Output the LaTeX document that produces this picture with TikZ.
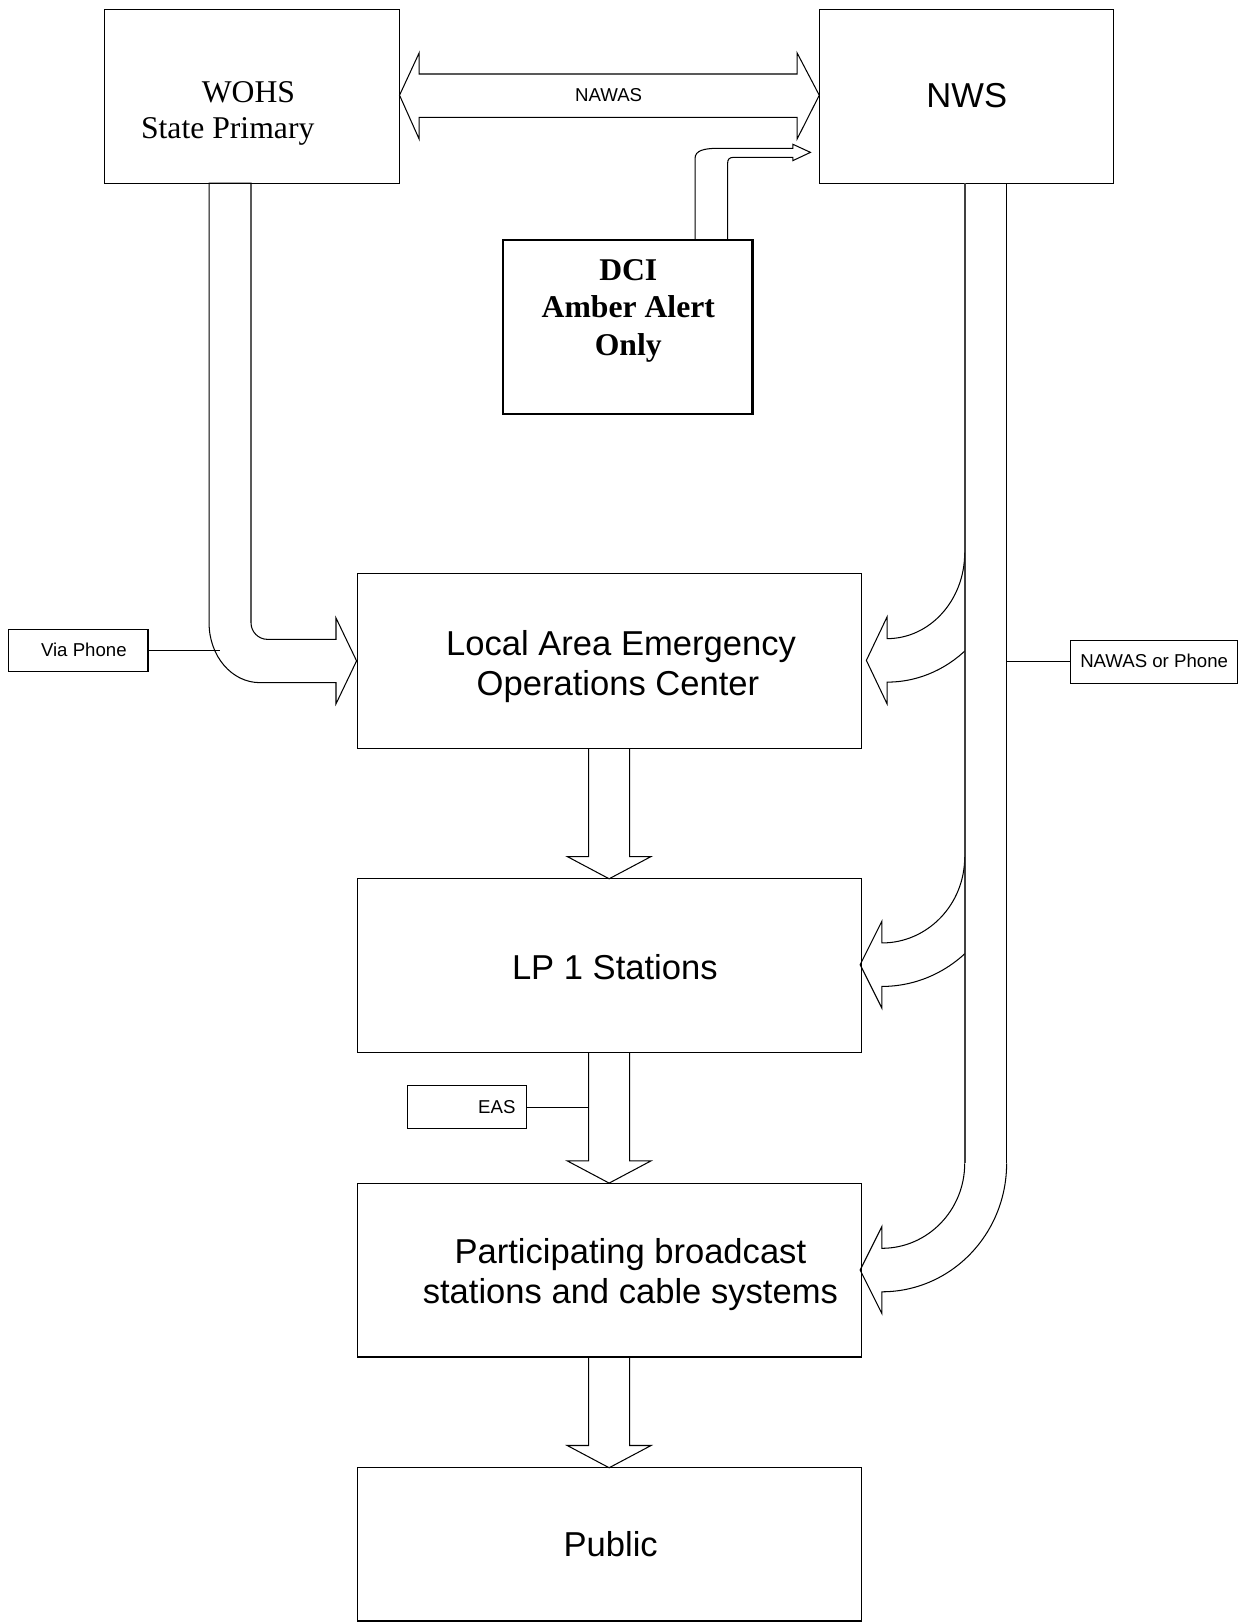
\documentclass[tikz,border=0pt]{standalone}
\usepackage{fontspec}
\setmainfont{Liberation Serif}
\setsansfont{Liberation Sans}
\usetikzlibrary{calc}
\tikzset{
  box/.style={draw=black, line width=0.55pt, inner sep=0pt, outer sep=0pt},
  thickbox/.style={draw=black, line width=1.1pt, inner sep=0pt, outer sep=0pt},
  fat/.style={draw=black, line width=0.5pt, line join=miter},
  thinline/.style={draw=black, line width=0.5pt},
  lbl/.style={inner sep=0pt, outer sep=0pt, anchor=base},
  bigsans/.style={lbl, font=\sffamily\fontsize{16.7}{20}\selectfont},
  serif/.style={lbl, font=\rmfamily\fontsize{15.3}{18}\selectfont},
  bserif/.style={lbl, font=\rmfamily\bfseries\fontsize{15.3}{18}\selectfont},
  smallsans/.style={lbl, font=\sffamily\fontsize{9}{11}\selectfont},
}
\newcommand\fatdown[2]{%
  \draw[fat] ($(#1.south)+(-19.75,0)$) -- ($(#2.north)+(-19.75,-21.5)$)
    -- ($(#2.north)+(-40.5,-21.5)$) -- (#2.north) -- ($(#2.north)+(40.5,-21.5)$)
    -- ($(#2.north)+(19.75,-21.5)$) -- ($(#1.south)+(19.75,0)$);}
\begin{document}
\begin{tikzpicture}[x=0.5pt,y=-0.5pt]
\useasboundingbox (0,0) rectangle (1196,1568);
% boxes
\node[box, minimum width=142.5pt, minimum height=84pt] (wohs) at (243.5,93) {};
\node[box, minimum width=142pt, minimum height=84pt] (nws) at (934,93) {};
\node[thickbox, minimum width=120.5pt, minimum height=84pt] (dci) at (606.5,316) {};
\node[box, minimum width=243.5pt, minimum height=84.5pt] (lae) at (588.5,638.5) {};
\node[box, minimum width=243.5pt, minimum height=84pt] (lp1) at (588.5,933) {};
\node[box, minimum width=243.5pt, minimum height=84pt] (pbs) at (588.5,1227) {};
\node[box, minimum width=243.5pt, minimum height=74pt] (pub) at (588.5,1492) {};
\node[box, minimum width=67.5pt, minimum height=20.5pt] (via) at (75.5,628.5) {};
\node[box, minimum width=80.5pt, minimum height=20.5pt] (nop) at (1114.75,639.5) {};
\node[box, minimum width=57.5pt, minimum height=20.5pt] (eas) at (451.5,1069.5) {};
% texts
\node[serif] (wohs1) at (240,99) {WOHS};
\node[serif] (wohs2) at (220,134) {State Primary};
\node[bigsans] (nwst) at (934,104) {NWS};
\node[bserif] (dci1) at (607,271) {DCI};
\node[bserif] (dci2) at (607,307) {Amber Alert};
\node[bserif] (dci3) at (607,343) {Only};
\node[bigsans] (lae1) at (600,633) {Local Area Emergency};
\node[bigsans] (lae2) at (597,672) {Operations Center};
\node[bigsans] (lp1t) at (594,946) {LP 1 Stations};
\node[bigsans] (pbs1) at (609,1221) {Participating broadcast};
\node[bigsans] (pbs2) at (609,1259) {stations and cable systems};
\node[bigsans] (pubt) at (590,1504) {Public};
\node[smallsans] (nawas) at (588,98) {NAWAS};
\node[smallsans] (viat) at (81,634) {Via Phone};
\node[smallsans] (nopt) at (1115,645) {NAWAS or Phone};
\node[smallsans] (east) at (480,1076) {EAS};
% NAWAS double arrow between WOHS and NWS
\draw[fat] (386,92) -- (405,51) -- (405,71.5) -- (770,71.5) -- (770,51) -- (791.5,92)
  -- (770,134.5) -- (770,113.5) -- (405,113.5) -- (405,134.5) -- cycle;
% DCI bent arrow to NWS
\draw[fat] (671.5,232) -- (671.5,153) .. controls (671.5,145.5) and (680,143.5) .. (692,143.3)
  -- (766,143.3) -- (766,139.4) -- (783,147.2) -- (766,155.2) -- (766,152) -- (709,152)
  .. controls (704.5,152) and (703,154) .. (703,157.5) -- (703,232);
% WOHS bent arrow to Local Area
\draw[fat] (242.5,177) -- (202,177) -- (202,602)
  .. controls (202,633.8) and (223.9,659.5) .. (251,659.5)
  -- (324.6,659.5) -- (324.6,680) -- (344.5,638.5) -- (324.6,597) -- (324.6,617.7)
  -- (258.5,617.7) .. controls (249.7,617.7) and (242.5,610.5) .. (242.5,601.7) -- cycle;
\coordinate (viaend) at (213,628.5);
\draw[thinline] (via.east) -- (viaend);
% NWS shaft
\draw[fat] (932,177) -- (972.5,177);
\draw[draw=black!75, line width=1.1pt] (932,177) -- (932,1124);
\draw[fat] (972.5,177) -- (972.5,1124);
% branches
\begin{scope}
\clip (0,0) rectangle (932,1568);
\draw[fat] (932,534) .. controls (932,579.84) and (898.42,617) .. (857,617)
  -- (857,596) -- (837,638) -- (857,680) -- (857,659)
  .. controls (920.79,659) and (972.5,603.04) .. (972.5,534);
\draw[fat] (932,828) .. controls (932,873.84) and (896.18,911) .. (852,911)
  -- (852,890) -- (831,932) -- (852,974) -- (852,953)
  .. controls (918.55,953) and (972.5,897.04) .. (972.5,828);
\end{scope}
\draw[fat] (932,1124) .. controls (932,1169.29) and (896.18,1206) .. (852,1206)
  -- (852,1185) -- (831,1227) -- (852,1269) -- (852,1248)
  .. controls (918.55,1248) and (972.5,1192.49) .. (972.5,1124);
\coordinate (nopstart) at (972.5,639.5);
\draw[thinline] (nopstart) -- (nop.west);
% EAS line
\coordinate (easend) at (568,1069.5);
\draw[thinline] (eas.east) -- (easend);
% down arrows
\fatdown{lae}{lp1}
\fatdown{lp1}{pbs}
\fatdown{pbs}{pub}
\end{tikzpicture}
\end{document}
